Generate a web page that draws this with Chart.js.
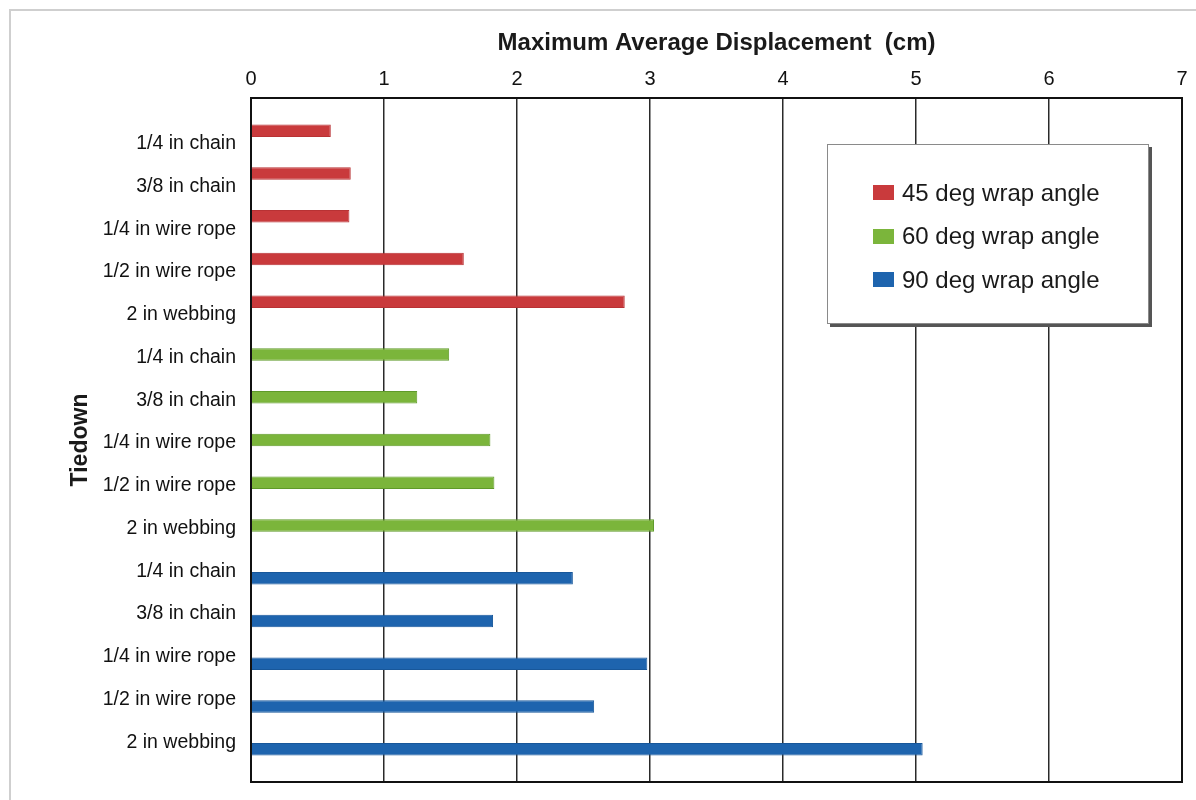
<!DOCTYPE html>
<html>
<head>
<meta charset="utf-8">
<script src="https://cdn.jsdelivr.net/npm/chart.js@4.4.1/dist/chart.umd.min.js"></script>
<style>
  html, body { margin: 0; padding: 0; background: #fff; }
  #wrap { position: relative; width: 1196px; height: 800px; overflow: hidden; }
  #frame { position: absolute; left: 9px; top: 9px; width: 1300px; height: 900px;
           border-top: 2px solid #cfcfcf; border-left: 2px solid #cfcfcf; }
  #legend { position: absolute; left: 827px; top: 144px; width: 322px; height: 180px;
            background: #fff; border: 1px solid #8a8a8a; box-shadow: 3px 3px 0 #555;
            font-family: "Liberation Sans", Arial, sans-serif; font-size: 24px; color: #1a1a1a;
            box-sizing: border-box; padding-top: 26px; }
  .item { display: flex; align-items: center; height: 43.5px; padding-left: 45px; }
  .sw { width: 21px; height: 15px; margin-right: 8px; }
  canvas { position: absolute; left: 0; top: 0; }
</style>
</head>
<body>
<div id="wrap">
  <div id="frame"></div>
  <canvas id="c" width="1196" height="800"></canvas>
  <div id="legend"></div>
</div>
<script>
const tiedowns = ['1/4 in chain', '3/8 in chain', '1/4 in wire rope', '1/2 in wire rope', '2 in webbing'];
const seriesNames = ['45 deg wrap angle', '60 deg wrap angle', '90 deg wrap angle'];
const wrap45 = [0.60, 0.75, 0.74, 1.60, 2.81];
const wrap60 = [1.49, 1.25, 1.80, 1.83, 3.03];
const wrap90 = [2.42, 1.82, 2.98, 2.58, 5.05];
const xTicks = [0, 1, 2, 3, 4, 5, 6, 7];
const xTitle = 'Maximum Average Displacement  (cm)';
const yTitle = 'Tiedown';

const colors = ['#C93A3C', '#7BB53B', '#1E64AE'];
const borders = ['#B83234', '#5F9A2A', '#18579A'];

// category axis: one blank slot before and after the three groups of five
const labels = [''].concat(tiedowns, tiedowns, tiedowns, ['']);
const groups = [wrap45, wrap60, wrap90];
function column(g) {
  const out = [null];
  for (let k = 0; k < 3; k++) {
    for (let i = 0; i < tiedowns.length; i++) out.push(k === g ? groups[g][i] : null);
  }
  out.push(null);
  return out;
}

const datasets = seriesNames.map((name, g) => ({
  label: name,
  data: column(g),
  backgroundColor: colors[g],
  borderColor: borders[g],
  borderWidth: 1,
  categoryPercentage: 0.70,
  barPercentage: 1.25
}));

const FONT = '"Liberation Sans", Arial, sans-serif';

const frameBox = {
  id: 'frameBox',
  afterDraw(chart) {
    const a = chart.chartArea, ctx = chart.ctx;
    ctx.save();
    ctx.strokeStyle = '#111';
    ctx.lineWidth = 2;
    ctx.strokeRect(a.left, a.top, a.right - a.left, a.bottom - a.top);
    ctx.restore();
  }
};

const chart = new Chart(document.getElementById('c'), {
  type: 'bar',
  data: { labels: labels, datasets: datasets },
  options: {
    indexAxis: 'y',
    responsive: false,
    animation: false,
    layout: { padding: { left: 10, top: 18, right: 14, bottom: 18 } },
    plugins: { legend: { display: false }, tooltip: { enabled: false } },
    scales: {
      x: {
        position: 'top',
        min: 0, max: 7,
        afterBuildTicks(scale) { scale.ticks = xTicks.map(v => ({ value: v })); },
        afterFit(scale) { scale.height = 80; scale.paddingLeft = 0; scale.paddingRight = 0; },
        ticks: { font: { family: FONT, size: 20 }, color: '#111', padding: 7 },
        grid: { color: '#2a2a2a', lineWidth: 1.5, drawTicks: false },
        border: { display: true, color: '#111', width: 2 },
        title: { display: true, text: xTitle, color: '#1a1a1a',
                 font: { family: FONT, size: 24, weight: 'bold' }, padding: { top: 11, bottom: 0 } }
      },
      y: {
        type: 'category',
        offset: false,
        afterFit(scale) { scale.width = 241; scale.paddingTop = 0; scale.paddingBottom = 0; },
        ticks: { font: { family: FONT, size: 19.5 }, color: '#111', padding: 15, autoSkip: false, labelOffset: 3 },
        grid: { display: false, drawTicks: false },
        border: { display: true, color: '#111', width: 2 },
        title: { display: true, text: yTitle, color: '#1a1a1a',
                 font: { family: FONT, size: 23, weight: 'bold' }, padding: { top: 57, bottom: 0 } }
      }
    }
  },
  plugins: [frameBox]
});

// legend box built from the chart's datasets
const legendEl = document.getElementById('legend');
chart.data.datasets.forEach(ds => {
  const row = document.createElement('div');
  row.className = 'item';
  const sw = document.createElement('span');
  sw.className = 'sw';
  sw.style.background = ds.backgroundColor;
  const tx = document.createElement('span');
  tx.textContent = ds.label;
  row.appendChild(sw);
  row.appendChild(tx);
  legendEl.appendChild(row);
});
</script>
</body>
</html>
